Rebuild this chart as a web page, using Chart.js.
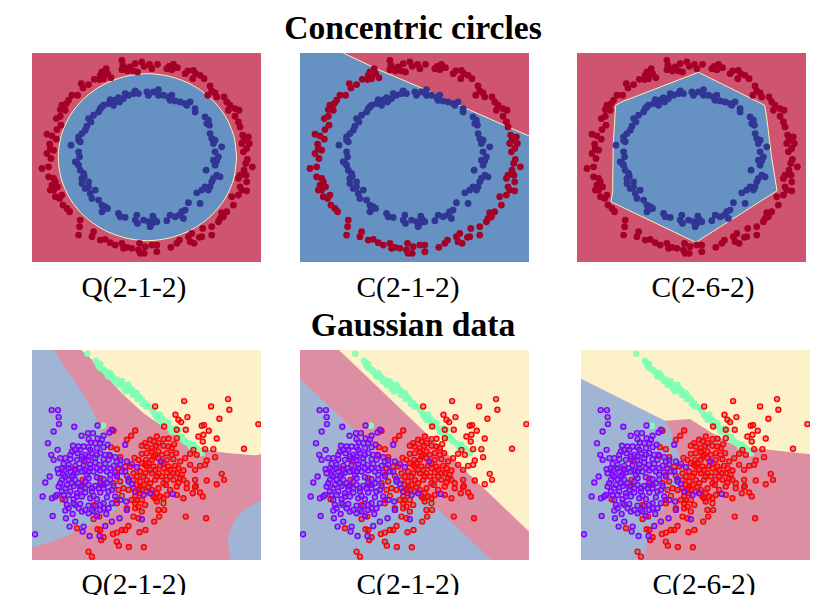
<!DOCTYPE html>
<html lang="en">
<head>
<meta charset="UTF-8">
<title>Decision regions</title>
<script src="https://cdn.jsdelivr.net/npm/chart.js"></script>
<style>
  html, body { margin: 0; padding: 0; background: #fff; overflow: hidden; width: 832px; height: 595px; }
  canvas { position: absolute; }
  .txt { position: absolute; font-family: "Liberation Serif", serif; color: #000; white-space: nowrap; transform: translateX(-50%); line-height: 1; }
  .head { font-weight: bold; font-size: 33.6px; }
  .lab { font-size: 29.5px; }
</style>
</head>
<body>
<canvas id="c1" width="229" height="209" style="left:32px;top:53px"></canvas>
<canvas id="c2" width="229" height="209" style="left:300px;top:53px"></canvas>
<canvas id="c3" width="229" height="209" style="left:577px;top:53px"></canvas>
<canvas id="g1" width="229" height="210" style="left:32px;top:350px"></canvas>
<canvas id="g2" width="229" height="210" style="left:300px;top:350px"></canvas>
<canvas id="g3" width="229" height="210" style="left:581px;top:350px"></canvas>
<script>
const headings = ['Concentric circles', 'Gaussian data'];
const modelNames = ['Q(2-1-2)', 'C(2-1-2)', 'C(2-6-2)'];

// circles data
const innerRing = [[345,152],[340,160],[355,160],[325,165],[315,160],[310,175],[295,172],[285,180],[270,178],[265,190],[280,195],[298,185],[290,178],[250,195],[240,205],[235,215],[245,200],[220,225],[205,235],[212,245],[200,258],[195,270],[185,280],[175,290],[180,305],[175,300],[152,315],[175,335],[178,350],[165,365],[175,375],[170,368],[180,390],[190,400],[185,415],[185,430],[192,408],[205,425],[195,445],[210,460],[225,450],[205,440],[215,475],[235,480],[245,495],[255,500],[262,505],[245,515],[250,508],[295,520],[300,530],[315,532],[350,525],[345,540],[352,550],[370,540],[385,545],[398,528],[395,550],[410,545],[390,560],[402,538],[440,542],[450,525],[465,530],[478,525],[490,535],[495,510],[505,488],[485,515],[530,458],[540,490],[545,450],[555,440],[570,440],[575,425],[565,450],[590,405],[600,410],[580,415],[558,390],[585,375],[580,360],[595,350],[585,335],[590,362],[605,320],[580,310],[575,295],[570,280],[585,300],[560,250],[565,240],[555,230],[568,255],[525,215],[525,205],[500,195],[510,185],[495,190],[480,185],[465,182],[450,180],[445,170],[455,165],[430,165],[415,148],[415,165],[400,155],[380,155],[385,165]];
const outerRing = [[305,60],[308,75],[305,88],[320,85],[330,80],[345,70],[352,95],[340,92],[322,92],[365,65],[372,78],[388,72],[395,85],[412,72],[440,85],[447,78],[460,72],[472,82],[455,88],[495,100],[503,92],[520,90],[527,100],[540,105],[518,115],[552,115],[570,137],[575,152],[585,158],[563,165],[590,170],[612,170],[620,185],[630,195],[625,210],[645,205],[657,210],[645,228],[655,245],[660,260],[668,285],[685,290],[672,300],[665,310],[688,310],[680,325],[670,335],[682,358],[677,370],[697,380],[672,390],[660,405],[678,405],[655,415],[680,425],[660,440],[665,450],[680,452],[655,465],[635,470],[640,495],[620,515],[605,518],[610,530],[600,535],[595,545],[575,560],[548,565],[575,585],[545,590],[538,592],[515,580],[505,590],[510,605],[522,610],[478,600],[470,610],[452,622],[410,615],[410,635],[395,615],[375,620],[372,640],[358,610],[355,630],[360,640],[335,625],[320,622],[305,610],[310,625],[285,615],[270,608],[255,598],[240,600],[220,575],[215,590],[180,540],[178,560],[175,585],[148,515],[140,505],[128,495],[118,475],[125,465],[105,470],[100,450],[90,450],[85,410],[100,415],[105,425],[112,440],[95,435],[65,385],[85,380],[92,355],[80,340],[90,325],[100,330],[88,312],[80,282],[95,287],[108,297],[110,268],[122,255],[108,235],[120,228],[120,208],[125,195],[135,210],[138,190],[145,180],[155,165],[172,165],[183,130],[188,143],[205,133],[222,117],[240,105],[238,118],[245,95],[258,85],[262,100],[250,115],[272,112],[250,100]];

// decision boundaries of the circles panels
const c1Blue = [[650,351],[641,416],[614,477],[572,528],[516,568],[451,593],[382,602],[313,593],[248,568],[192,528],[150,477],[123,416],[114,351],[123,286],[150,225],[192,174],[248,134],[313,109],[382,100],[451,109],[516,134],[572,174],[614,225],[641,286],[650,351]];
const c2Line = [[165,38],[275,90],[405,145],[535,205],[655,258],[723,287]];
const c2Red = [[165,38],[275,90],[405,145],[535,205],[655,258],[723,287],[723,38]];
const c3Blue = [[400,96],[599,195],[606,240],[618,340],[629,410],[636,452],[392,607],[137,485],[142,455],[144,310],[151,195],[174,183],[400,96]];

// gaussian data
const greenPts = [[201,42],[227,63],[232,70],[240,73],[240,85],[250,90],[260,98],[270,100],[265,110],[280,115],[275,108],[290,120],[300,125],[295,135],[310,135],[305,125],[320,140],[330,150],[325,135],[340,155],[315,150],[345,165],[355,170],[350,160],[365,180],[375,190],[385,200],[400,215],[405,225],[420,225],[425,235],[435,245],[445,250],[450,265],[465,265],[475,270],[470,285],[485,290],[490,300],[505,310],[520,315],[530,325],[545,340],[248,258],[305,475],[430,490],
[235,78],[255,95],[262,105],[272,112],[285,125],[298,130],[310,145],[318,155],[328,145],[335,150],[338,165],[352,178],[360,175],[368,192],[378,200],[395,208],[410,232],[415,240],[428,250],[440,258],[455,275],[462,272],[480,295],[495,305],[512,320],[538,335]];
const purplePts = [[94,211],[113,211],[115,232],[116,253],[100,275],[162,261],[232,257],[83,310],[112,330],[93,345],[100,360],[184,288],[203,280],[218,280],[205,298],[232,296],[250,288],[268,278],[275,270],[212,308],[240,310],[262,315],[315,315],
[158,318],[175,320],[190,320],[205,322],[230,325],[250,322],[155,335],[172,340],[195,345],[215,340],[240,340],[268,345],[285,352],
[120,355],[135,355],[150,358],[170,360],[185,358],[205,360],[225,355],[250,358],[265,360],[300,360],[320,365],
[112,388],[130,372],[145,375],[165,378],[190,375],[210,375],[238,375],[255,372],[280,378],[335,372],[350,382],[423,365],
[115,400],[130,405],[150,395],[170,398],[195,392],[220,395],[240,392],[260,395],[285,398],[305,395],
[88,410],[75,428],[125,420],[145,418],[165,420],[205,415],[230,412],[250,418],[270,420],[325,418],
[115,440],[140,435],[160,438],[180,440],[205,435],[225,438],[250,435],[280,438],[335,432],[325,425],
[110,465],[125,455],[150,455],[170,460],[195,458],[215,455],[240,458],[265,455],[345,455],[370,465],[390,460],[458,462],
[67,470],[95,475],[105,470],[135,480],[160,478],[185,470],[210,475],[230,478],[260,472],[285,470],[300,480],[318,485],
[140,495],[165,495],[180,492],[205,497],[225,498],[250,490],[275,490],
[135,512],[157,522],[185,515],[205,520],[240,510],[258,522],[230,528],[298,535],[320,510],[365,538],
[97,528],[137,535],[148,560],[165,545],[190,560],[187,575],[208,588],[255,558],[275,545],[238,588],[44,583],
[150,345],[180,330],[225,368],[160,405],[200,405],[240,428],[135,445],[180,450],[220,468],[250,445],[155,410],[210,385],[178,385],[132,390],[270,405],[195,425],[170,470],[145,465],[215,510],[240,495],
[165,330],[185,350],[205,350],[230,345],[255,345],[145,385],[165,390],[185,395],[205,395],[230,385],[250,385],[270,385],[125,385],[135,410],[155,430],[175,430],[195,445],[215,445],[235,445],[260,430],[275,450],[120,430],[130,465],[160,490],[175,505],[195,510],[220,515],[250,505],[265,505],[145,505],[290,365],[300,375],[315,395],[290,410],[210,330],[225,310],[245,300]];
const redPts = [[492,184],[573,200],[624,178],[628,210],[598,237],[405,200],[466,225],[502,232],[475,240],[483,247],[715,253],[552,256],[545,258],[566,273],[535,290],[550,285],[590,296],[548,305],[672,327],[555,328],[580,328],[497,270],[470,270],[432,260],
[280,273],[345,272],[333,288],[320,300],[375,310],[410,290],[430,298],[445,297],[470,295],[400,305],[380,320],[365,318],[290,328],[272,322],[408,318],[430,318],[462,313],[455,325],[510,342],[520,330],
[270,348],[300,352],[343,354],[365,342],[395,335],[415,335],[440,340],[468,340],[495,355],[530,345],[560,362],[585,352],
[192,365],[315,380],[330,380],[378,360],[395,360],[415,355],[440,360],[460,358],[480,365],[510,375],[540,378],[555,375],[525,390],
[165,387],[295,385],[340,400],[360,395],[380,380],[400,380],[420,378],[445,380],[465,378],[490,392],[605,402],
[290,405],[320,408],[350,410],[375,400],[395,400],[415,400],[440,398],[470,400],[485,405],[560,422],[612,420],[590,433],
[187,420],[240,415],[300,425],[360,425],[380,420],[405,420],[430,430],[460,420],[475,428],[525,420],[527,438],[500,430],
[185,438],[242,435],[280,430],[310,445],[325,450],[360,440],[385,442],[415,445],[437,435],[470,440],[500,445],[525,442],
[295,450],[345,470],[360,460],[380,455],[410,460],[440,465],[470,465],[490,475],[518,460],[540,458],[548,470],
[127,478],[220,495],[305,468],[290,490],[345,490],[365,480],[410,485],[430,490],[415,510],[290,480],
[345,505],[365,515],[320,505],[432,510],[417,530],[340,530],[355,535],[497,530],[558,535],[237,530],[220,537],[402,545],
[325,558],[315,570],[305,570],[290,578],[278,582],[358,577],[376,570],[170,565],[232,568],[240,570],[250,592],[243,600],[290,605],[296,617],[326,621],[371,622],[205,635],[215,650],
[405,345],[385,370],[430,370],[370,410],[410,410],[450,410],[390,430],[350,435],[340,420],[455,345],[425,345],[475,385],[365,450],[400,470],[355,500],
[380,340],[400,350],[375,375],[390,390],[405,390],[430,385],[450,390],[460,400],[425,410],[440,420],[370,435],[395,450],[420,470],[355,450],[340,445],[335,480],[350,480],[375,495],[405,475],[430,475],[450,450],[480,415],[490,420],[365,370],[355,360],[445,320],[415,310],[390,300],[395,325]];

// decision regions of the gaussian panels
const g1Blue = [[35,31],[98,31],[130,75],[170,135],[205,190],[235,250],[265,300],[300,350],[330,390],[335,430],[320,480],[260,530],[190,565],[110,600],[35,622]];
const g1BlueCorner = [[723,480],[680,505],[645,540],[625,590],[635,660],[723,660]];
const g1Cream = [[183,31],[215,60],[260,110],[310,165],[370,220],[420,255],[470,290],[530,320],[590,335],[650,342],[723,340],[723,31]];
const g2Blue = [[35,117],[610,660],[35,660]];
const g2Cream = [[152,31],[723,575],[723,31]];
const g3Blue = [[35,117],[287,243],[302,265],[315,310],[345,390],[330,430],[300,480],[270,520],[237,590],[224,660],[35,660]];
const g3Cream = [[35,31],[35,117],[287,243],[362,238],[430,280],[502,320],[600,330],[723,343],[723,31]];

const circleFrame = [[35,38],[723,38],[723,666],[35,666]];
const gaussFrame = [[35,31],[723,31],[723,660],[35,660]];

const RED_BG = '#cf5470', BLUE_BG = '#6592c3', EDGE = '#f8f1b8';
const PINK = '#dc8ea2', SLATE = '#a0b5d5', CREAM = '#fdf1ca';

function region(points, color, tension) {
    return { data: points, showLine: true, fill: 'shape', backgroundColor: color, borderWidth: 0, pointRadius: 0, tension: tension || 0 };
}
function edge(points, tension) {
    return { data: points, showLine: true, fill: false, borderColor: EDGE, borderWidth: 1, pointRadius: 0, tension: tension || 0 };
}
function dots(points, color) {
    return { data: points, pointRadius: 3.4, backgroundColor: color, borderWidth: 0 };
}
function rings(points, color, inner) {
    return { data: points, pointRadius: 2.5, backgroundColor: inner, borderColor: color, borderWidth: 1.4 };
}

function draw(id, datasets, yMin, yMax) {
    new Chart(document.getElementById(id), {
        type: 'scatter',
        data: { datasets: datasets },
        options: {
            responsive: false,
            animation: false,
            layout: { padding: 0, autoPadding: false },
            plugins: { legend: { display: false }, tooltip: { enabled: false } },
            scales: {
                x: { type: 'linear', min: 35, max: 723, display: false },
                y: { type: 'linear', min: yMin, max: yMax, reverse: true, display: false }
            }
        }
    });
}

// first dataset in the list ends up on top
const circlePts = [dots(innerRing, '#313695'), dots(outerRing, '#a50026')];
draw('c1', circlePts.concat([edge(c1Blue, 0.3), region(c1Blue, BLUE_BG, 0.3), region(circleFrame, RED_BG)]), 38, 666);
draw('c2', circlePts.concat([edge(c2Line), region(c2Red, RED_BG), region(circleFrame, BLUE_BG)]), 38, 666);
draw('c3', circlePts.concat([edge(c3Blue), region(c3Blue, BLUE_BG), region(circleFrame, RED_BG)]), 38, 666);

const gaussPts = [
    rings(purplePts, '#8000ff', 'rgba(110,70,190,0.45)'),
    rings(redPts, '#ff0000', 'rgba(190,40,60,0.45)'),
    rings(greenPts, '#80ffb4', 'rgba(128,255,180,0.85)')
];
draw('g1', gaussPts.concat([region(g1Cream, CREAM, 0.2), region(g1BlueCorner, SLATE, 0.2), region(g1Blue, SLATE, 0.15), region(gaussFrame, PINK)]), 31, 660);
draw('g2', gaussPts.concat([region(g2Cream, CREAM), region(g2Blue, SLATE), region(gaussFrame, PINK)]), 31, 660);
draw('g3', gaussPts.concat([region(g3Cream, CREAM), region(g3Blue, SLATE), region(gaussFrame, PINK)]), 31, 660);

// text
function addText(str, cls, cx, top) {
    const d = document.createElement('div');
    d.className = 'txt ' + cls;
    d.textContent = str;
    d.style.left = cx + 'px';
    d.style.top = top + 'px';
    document.body.appendChild(d);
}
addText(headings[0], 'head', 413, 11);
addText(headings[1], 'head', 413, 308);
[134, 408, 703].forEach((cx, i) => addText(modelNames[i], 'lab', cx, 273));
[134, 408, 704].forEach((cx, i) => addText(modelNames[i], 'lab', cx, 570));
</script>
</body>
</html>
